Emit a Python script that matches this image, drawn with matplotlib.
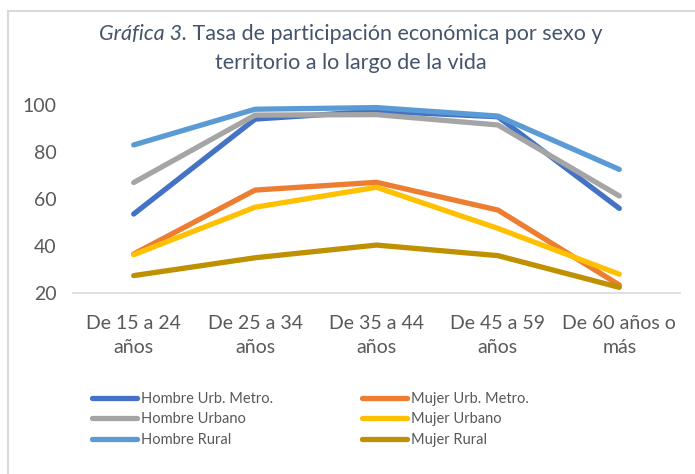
import matplotlib
matplotlib.use("Agg")
import matplotlib.pyplot as plt
from matplotlib.patches import Rectangle

plt.rcParams['font.family'] = ['Lato', 'DejaVu Sans']

# categories (age groups)
categorias = ["De 15 a 24\naños", "De 25 a 34\naños", "De 35 a 44\naños",
              "De 45 a 59\naños", "De 60 años o\nmás"]

# participation rates
hombre_urb_metro = [53.6, 94.0, 97.4, 95.0, 56.0]
hombre_urbano = [67.0, 95.7, 95.9, 91.5, 61.3]
hombre_rural = [83.0, 98.2, 98.9, 95.3, 72.6]
mujer_urb_metro = [36.6, 63.8, 67.1, 55.3, 23.4]
mujer_urbano = [36.3, 56.5, 65.0, 47.5, 28.0]
mujer_rural = [27.4, 35.0, 40.4, 35.9, 22.4]

nombres = ["Hombre Urb. Metro.", "Hombre Urbano", "Hombre Rural",
           "Mujer Urb. Metro.", "Mujer Urbano", "Mujer Rural"]
series = [hombre_urb_metro, hombre_urbano, hombre_rural,
          mujer_urb_metro, mujer_urbano, mujer_rural]
colores = ["#4472C4", "#A5A5A5", "#5B9BD5", "#ED7D31", "#FFC000", "#BF9000"]

fig = plt.figure(figsize=(6.95, 4.74), dpi=100)
W, H = 695, 474

# outer chart frame (only top/left visible in the crop)
fig.patches.append(Rectangle((8 / W, 0 - 0.05), 1.1, 1 - 11 / H + 0.05,
                             transform=fig.transFigure, fill=False,
                             edgecolor="#D9D9D9", linewidth=1.5))

ax = fig.add_axes([73 / W, 1 - 293 / H, (680 - 73) / W, (293 - 105) / H])
x = range(len(categorias))
lines = []
for vals, nom, col in zip(series, nombres, colores):
    l, = ax.plot(x, vals, color=col, linewidth=3.8, label=nom,
                 solid_capstyle="round", solid_joinstyle="round", clip_on=False)
    lines.append(l)

ax.set_xlim(-0.5, 4.5)
ax.set_ylim(20, 100)
ax.set_yticks([20, 40, 60, 80, 100])
ax.set_xticks(list(x))
ax.set_xticklabels(categorias, linespacing=1.45)
ax.tick_params(axis="both", length=0, labelsize=14, colors="#595959")
ax.tick_params(axis="y", pad=12)
ax.tick_params(axis="x", pad=16)
for s in ["top", "right", "left"]:
    ax.spines[s].set_visible(False)
ax.spines["bottom"].set_color("#D9D9D9")
ax.spines["bottom"].set_linewidth(1.2)

# title: italic prefix + regular text, centred as one line
fig.canvas.draw()
r = fig.canvas.get_renderer()
t1 = fig.text(0, 0, "Gráfica 3.", fontsize=15.5, style="italic", color="#44546A")
t2 = fig.text(0, 0, " Tasa de participación económica por sexo y", fontsize=15.5,
              color="#44546A")
w1 = t1.get_window_extent(r).width
w2 = t2.get_window_extent(r).width
cx = 351
y1 = 1 - 34 / H
start = cx - (w1 + w2) / 2
t1.set_position((start / W, y1))
t2.set_position(((start + w1) / W, y1))
t1.set_va("center")
t2.set_va("center")
fig.text(cx / W, 1 - 63 / H, "territorio a lo largo de la vida", fontsize=15.5,
         color="#44546A", ha="center", va="center")

leg = fig.legend(handles=lines, ncol=2, loc="upper left",
                 bbox_to_anchor=(86 / W, 1 - 386 / H), frameon=False,
                 fontsize=10.5, handlelength=3.1, handletextpad=0.25,
                 columnspacing=6.1, labelspacing=0.45, borderaxespad=0)
for t in leg.get_texts():
    t.set_color("#595959")

fig.savefig("out.png", dpi=100)
